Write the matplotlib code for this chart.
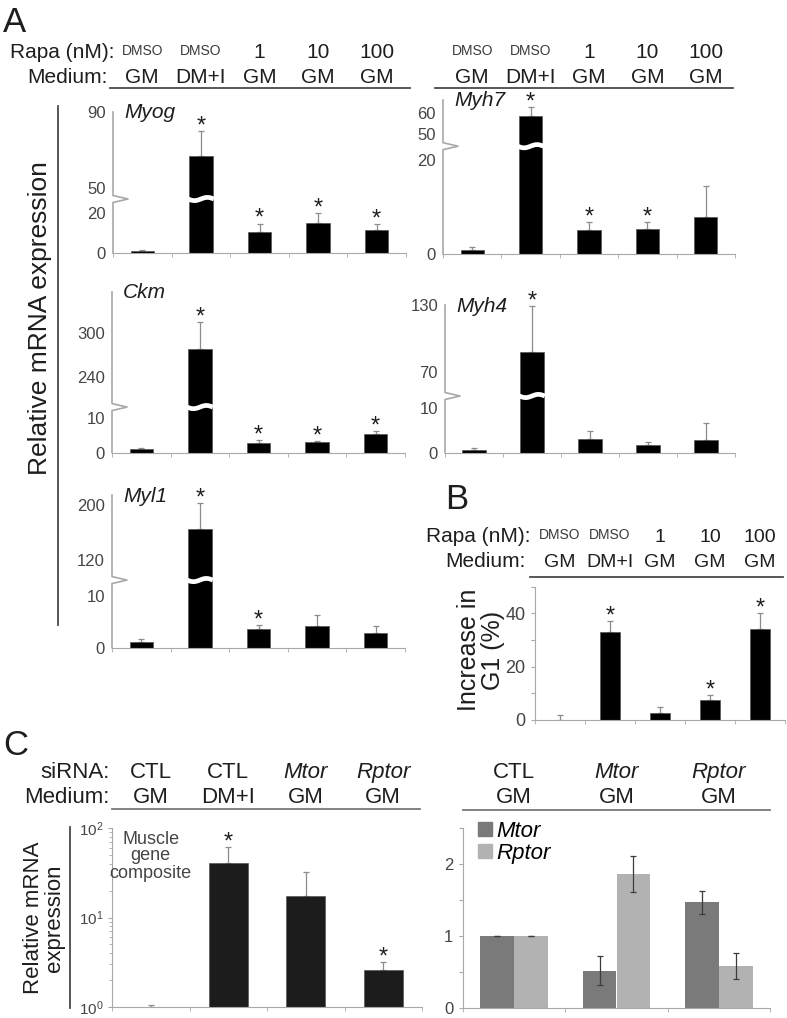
import numpy as np
import matplotlib
matplotlib.use("Agg")
import matplotlib.pyplot as plt
from matplotlib.transforms import blended_transform_factory
from matplotlib.patches import Patch
from matplotlib.lines import Line2D

plt.rcParams['font.family'] = ['Liberation Sans', 'DejaVu Sans']

# ── data ──────────────────────────────────────────────────────────────────────
rapa_A   = ["DMSO", "DMSO", "1", "10", "100"]
medium_A = ["GM", "DM+I", "GM", "GM", "GM"]

myog     = [1.0, 66.8, 10.4, 15.0, 11.6]
myog_err = [0.3, 13.0, 4.3, 4.8, 2.8]
myog_sig = [0, 1, 1, 1, 1]

myh7     = [0.9, 58.7, 5.2, 5.4, 7.9]
myh7_err = [0.5, 4.0, 1.6, 1.4, 6.7]
myh7_sig = [0, 1, 1, 1, 0]

ckm      = [1.0, 279, 2.9, 3.1, 5.4]
ckm_err  = [0.3, 36, 0.7, 0.3, 0.9]
ckm_sig  = [0, 1, 1, 1, 1]

myh4     = [0.6, 87.5, 3.0, 1.7, 2.9]
myh4_err = [0.5, 41.5, 1.8, 0.7, 3.9]
myh4_sig = [0, 1, 0, 0, 0]

myl1     = [1.16, 164.7, 3.6, 4.2, 2.8]
myl1_err = [0.5, 38, 0.7, 2.2, 1.4]
myl1_sig = [0, 1, 1, 0, 0]

g1_incr  = [0.0, 33.1, 2.5, 7.5, 34.3]
g1_err   = [1.9, 4.0, 2.5, 1.7, 5.7]
g1_sig   = [0, 1, 0, 1, 1]

sirna_C   = ["CTL", "CTL", "Mtor", "Rptor"]
medium_C  = ["GM", "DM+I", "GM", "GM"]
composite     = [1.0, 41, 17.5, 2.6]
composite_err = [0.05, 19.6, 14.4, 0.6]
composite_sig = [0, 1, 0, 1]

groups_kd  = ["CTL", "Mtor", "Rptor"]
mtor_expr  = [1.0, 0.52, 1.47]
mtor_err   = [0.0, 0.2, 0.16]
rptor_expr = [1.0, 1.87, 0.59]
rptor_err  = [0.0, 0.25, 0.18]

# ── figure helpers ────────────────────────────────────────────────────────────
W, H = 787, 1018
fig = plt.figure(figsize=(W / 100, H / 100), dpi=100)

AX_GRAY = '#a8a8a8'
TICK_TXT = '#454545'
TXT = '#1e1e1e'


def fx(x):
    return x / W


def fy(y):
    return 1 - y / H


def box(x0, y0, x1, y1):
    return fig.add_axes([x0 / W, 1 - y1 / H, (x1 - x0) / W, (y1 - y0) / H])


def hline(x0, x1, y, color='#4a4a4a', lw=1.3):
    fig.add_artist(Line2D([fx(x0), fx(x1)], [fy(y), fy(y)], color=color, lw=lw))


def vline(x, y0, y1, color='#4a4a4a', lw=1.3):
    fig.add_artist(Line2D([fx(x), fx(x)], [fy(y0), fy(y1)], color=color, lw=lw))


def base_style(ax, n):
    for s in ['top', 'right']:
        ax.spines[s].set_visible(False)
    ax.spines['bottom'].set_color(AX_GRAY)
    ax.spines['left'].set_color(AX_GRAY)
    ax.set_xlim(-0.5, n - 0.5)
    ax.set_xticks([])
    ax.set_xticks(np.arange(-0.5, n), minor=True)
    ax.tick_params(axis='x', which='minor', length=3, color=AX_GRAY, direction='out')
    ax.tick_params(axis='y', labelsize=12, labelcolor=TICK_TXT, color=AX_GRAY)


def broken_scale(lo, hi, top, f):
    def fwd(v):
        v = np.asarray(v, float)
        return np.where(v <= lo, f * v / lo,
                        np.where(v >= hi, f + (1 - f) * (v - hi) / (top - hi), f))

    def inv(u):
        u = np.asarray(u, float)
        return np.where(u <= f, u * lo / f, hi + (u - f) * (top - hi) / (1 - f))
    return fwd, inv


def star(ax, x, y, fs=17):
    ax.annotate('*', xy=(x, y), xytext=(0, -1), textcoords='offset points',
                ha='center', va='baseline', fontsize=fs, color=TXT,
                annotation_clip=False)


def gene_panel(box_px, vals, errs, sig, brk, ticks, name):
    x0, y0, x1, y1 = box_px
    ax = box(*box_px)
    lo, hi, top, f = brk
    ax.set_yscale('function', functions=broken_scale(lo, hi, top, f))
    n = len(vals)
    x = np.arange(n)
    ax.errorbar(x, vals, yerr=[np.zeros(n), errs], fmt='none', ecolor='#8c8c8c',
                elinewidth=0.9, capsize=2, capthick=0.9, zorder=1)
    ax.bar(x, vals, width=0.4, color='black', edgecolor='#555555', linewidth=0.5, zorder=2)
    base_style(ax, n)
    ax.set_ylim(0, top)
    ax.set_yticks(ticks)
    ax.set_yticklabels([str(t) for t in ticks])
    ax.tick_params(axis='y', length=0, pad=5)
    ax.spines['left'].set_visible(False)
    # y axis with break mark
    wpx, hpx = x1 - x0, y1 - y0
    dx, d = 15 / wpx, 3.5 / hpx
    ax.plot([0, 0, dx, 0, 0], [1, f + d, f, f - d, 0], color=AX_GRAY, lw=1.2,
            transform=ax.transAxes, clip_on=False, zorder=3)
    # white wavy gap on bars that cross the break
    tr = blended_transform_factory(ax.transData, ax.transAxes)
    for i, v in enumerate(vals):
        if v > hi:
            xs = np.linspace(i - 0.22, i + 0.22, 60)
            ys = f + (1.6 / hpx) * np.sin((xs - i) / 0.44 * 2 * np.pi)
            ax.plot(xs, ys, color='white', lw=3.4, transform=tr, zorder=4,
                    solid_capstyle='butt')
    for i, s in enumerate(sig):
        if s:
            star(ax, i, vals[i] + errs[i])
    fig.text(fx(x0 + 11), fy(y0 + 1), name, style='italic', fontsize=15, color=TXT,
             ha='left', va='center')
    return ax


def header_row(ax, labels, y, small=None, italic=None, fs=15):
    tr = blended_transform_factory(ax.transData, fig.transFigure)
    for i, lab in enumerate(labels):
        size = fs
        yy = y
        col = TXT
        if small and lab in small:
            size = 10
            yy = y - 3
            col = '#3a3a3a'
        st = 'italic' if (italic and lab in italic) else 'normal'
        ax.text(i, fy(yy), lab, transform=tr, ha='center', va='baseline',
                fontsize=size, style=st, color=col)


# ── panel A ───────────────────────────────────────────────────────────────────
fig.text(fx(3), fy(32), 'A', fontsize=25, color=TXT, ha='left', va='baseline')

ax_myog = gene_panel((113, 112, 406, 253), myog, myog_err, myog_sig,
                     (27, 44.2, 90, 0.383), [0, 20, 50, 90], 'Myog')
ax_myh7 = gene_panel((443, 100, 735, 254), myh7, myh7_err, myh7_sig,
                     (23, 44.3, 66, 0.70), [0, 20, 50, 60], 'Myh7')
ax_ckm = gene_panel((112, 292, 405, 452.5), ckm, ckm_err, ckm_sig,
                    (13.2, 198.5, 357, 0.283), [0, 10, 240, 300], 'Ckm')
ax_myh4 = gene_panel((445, 305, 735, 452.7), myh4, myh4_err, myh4_sig,
                     (12.8, 48.1, 130, 0.384), [0, 10, 70, 130], 'Myh4')
ax_myl1 = gene_panel((112, 495, 405, 647.7), myl1, myl1_err, myl1_sig,
                     (13.1, 91, 214.5, 0.443), [0, 10, 120, 200], 'Myl1')

for ax in (ax_myog, ax_myh7):
    header_row(ax, rapa_A, 58, small=["DMSO"])
    header_row(ax, medium_A, 83)
fig.text(fx(115), fy(58), 'Rapa (nM):', fontsize=15, color=TXT, ha='right', va='baseline')
fig.text(fx(108), fy(83), 'Medium:', fontsize=15, color=TXT, ha='right', va='baseline')
hline(110, 410, 88)
hline(435, 733, 88)

fig.text(fx(40), fy(318), 'Relative mRNA expression', rotation=90, fontsize=19,
         color=TXT, ha='center', va='center')
vline(58, 106, 625)

# ── panel B ───────────────────────────────────────────────────────────────────
fig.text(fx(445), fy(509), 'B', fontsize=25, color=TXT, ha='left', va='baseline')
ax_b = box(535, 586.7, 785, 720)
xb = np.arange(len(g1_incr))
ax_b.errorbar(xb, g1_incr, yerr=[np.zeros(len(xb)), g1_err], fmt='none',
              ecolor='#8c8c8c', elinewidth=0.9, capsize=2, capthick=0.9, zorder=1)
ax_b.bar(xb, g1_incr, width=0.4, color='black', edgecolor='#555555', linewidth=0.5, zorder=2)
base_style(ax_b, len(xb))
ax_b.set_ylim(0, 50)
ax_b.set_yticks(np.arange(0, 51, 10))
ax_b.set_yticklabels(['0', '', '20', '', '40', ''])
ax_b.tick_params(axis='y', length=3, direction='out', pad=4, labelsize=13)
for i, s in enumerate(g1_sig):
    if s:
        star(ax_b, i, g1_incr[i] + g1_err[i])
header_row(ax_b, rapa_A, 541.7, small=["DMSO"], fs=14)
header_row(ax_b, medium_A, 566.7, fs=14)
fig.text(fx(530), fy(541.7), 'Rapa (nM):', fontsize=15, color=TXT, ha='right', va='baseline')
fig.text(fx(526), fy(566.7), 'Medium:', fontsize=15, color=TXT, ha='right', va='baseline')
hline(530, 783, 577.3)
fig.text(fx(481), fy(650), 'Increase in\nG1 (%)', rotation=90, fontsize=18,
         color=TXT, ha='center', va='center', linespacing=0.95, multialignment='center')

# ── panel C ───────────────────────────────────────────────────────────────────
fig.text(fx(3), fy(755), 'C', fontsize=25, color=TXT, ha='left', va='baseline')
ax_c = box(112, 828, 422, 1007)
xc = np.arange(len(composite))
ax_c.set_yscale('log')
ax_c.errorbar(xc, composite, yerr=[np.zeros(len(xc)), composite_err], fmt='none',
              ecolor='#8c8c8c', elinewidth=0.9, capsize=2, capthick=0.9, zorder=1)
ax_c.bar(xc, composite, width=0.5, bottom=0, color='#1c1c1c', edgecolor='#555555',
         linewidth=0.5, zorder=2)
base_style(ax_c, len(xc))
ax_c.set_ylim(1, 100)
ax_c.tick_params(axis='y', which='major', length=3, direction='out', pad=3, labelsize=11)
ax_c.tick_params(axis='y', which='minor', length=2, direction='out', color=AX_GRAY)
for i, s in enumerate(composite_sig):
    if s:
        star(ax_c, i, composite[i] + composite_err[i])
ax_c.text(0, fy(856), 'Muscle\ngene\ncomposite', fontsize=13, color=TICK_TXT,
          ha='center', va='center', linespacing=1.0,
          transform=blended_transform_factory(ax_c.transData, fig.transFigure))
header_row(ax_c, sirna_C, 778, italic=["Mtor", "Rptor"], fs=16)
header_row(ax_c, medium_C, 803, fs=16)
fig.text(fx(110), fy(778), 'siRNA:', fontsize=16, color=TXT, ha='right', va='baseline')
fig.text(fx(110), fy(803), 'Medium:', fontsize=16, color=TXT, ha='right', va='baseline')
hline(112, 420, 808.5, color='#777777')
fig.text(fx(44), fy(918), 'Relative mRNA\nexpression', rotation=90, fontsize=16,
         color=TXT, ha='center', va='center', linespacing=1.05, multialignment='center')
vline(70, 827, 1008)

ax_k = box(463, 828.3, 770, 1008)
xk = np.arange(len(groups_kd))
bw = 0.33
ax_k.bar(xk - bw / 2, mtor_expr, width=bw, color='#7a7a7a', yerr=mtor_err,
         error_kw=dict(ecolor='#3c3c3c', elinewidth=0.9, capsize=2.5, capthick=0.9),
         label='Mtor')
ax_k.bar(xk + bw / 2, rptor_expr, width=bw, color='#b2b2b2', yerr=rptor_err,
         error_kw=dict(ecolor='#3c3c3c', elinewidth=0.9, capsize=2.5, capthick=0.9),
         label='Rptor')
base_style(ax_k, len(xk))
ax_k.set_ylim(0, 2.5)
ax_k.set_yticks(np.arange(0, 2.51, 0.5))
ax_k.set_yticklabels(['0', '', '1', '', '2', ''])
ax_k.tick_params(axis='y', length=3, direction='out', pad=4)
ax_k.legend(handles=[Patch(color='#7a7a7a', label='Mtor'), Patch(color='#b2b2b2', label='Rptor')],
            loc='upper left', bbox_to_anchor=(0.05, 1.04), frameon=False,
            prop=dict(style='italic', size=16), handlelength=0.6, handleheight=0.6,
            handletextpad=0.2, labelspacing=0.05, borderpad=0, borderaxespad=0)
header_row(ax_k, groups_kd, 778, italic=["Mtor", "Rptor"], fs=16)
header_row(ax_k, ["GM", "GM", "GM"], 803, fs=16)
hline(463, 770, 810, color='#777777')

fig.savefig('out.png', dpi=100)
